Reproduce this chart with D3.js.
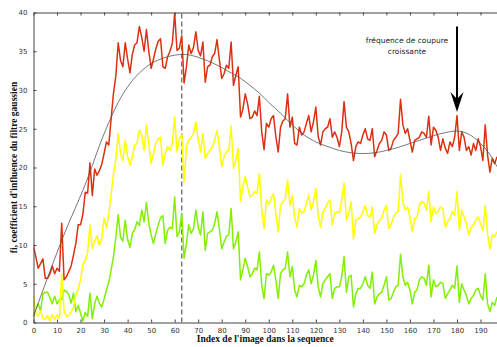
<!DOCTYPE html>
<html>
<head>
<meta charset="utf-8">
<script src="https://cdn.jsdelivr.net/npm/d3@7"></script>
<style>
  html, body { margin: 0; padding: 0; background: #fff; }
  svg { display: block; }
</style>
</head>
<body>
<svg id="chart" width="497" height="347"></svg>
<script>
// Image index 0..197 along the sequence
const frameIndex = d3.range(0, 198);

// Influence coefficient of the gaussian filter, one value per image
const redSeries = [
  9.8, 8.5, 7.0, 7.6, 8.2, 5.7, 5.7, 6.3, 7.3, 6.3,
  7.0, 6.6, 12.8, 5.5, 5.9, 6.6, 7.3, 8.7, 10.2, 12.6,
  12.6, 14.0, 16.8, 16.7, 20.6, 16.4, 19.8, 19.0, 19.6, 20.4,
  21.8, 23.3, 22.9, 26.3, 29.6, 31.8, 36.1, 33.8, 33.0, 36.1,
  34.0, 32.2, 34.6, 35.8, 36.1, 38.2, 36.8, 35.0, 37.8, 35.0,
  32.8, 34.0, 35.3, 36.3, 36.6, 33.0, 32.8, 34.3, 35.0, 36.0,
  39.9, 35.1, 35.4, 37.0, 30.9, 33.0, 35.8, 34.7, 35.5, 37.5,
  35.1, 34.4, 36.2, 31.0, 33.0, 33.2, 34.3, 34.7, 36.5, 33.9,
  31.5, 32.1, 33.2, 32.8, 36.2, 30.6, 31.9, 33.0, 26.5, 27.5,
  29.5, 28.2, 26.3, 26.5, 27.3, 26.7, 29.2, 24.6, 22.3, 25.7,
  25.2, 26.3, 26.7, 24.0, 22.0, 25.2, 26.0, 26.3, 29.5, 25.2,
  26.5, 23.1, 22.9, 25.2, 24.2, 24.6, 25.7, 26.7, 24.6, 25.9,
  27.8, 24.0, 22.9, 24.6, 25.0, 25.2, 26.3, 23.9, 24.6, 23.9,
  22.7, 24.6, 28.5, 25.2, 24.6, 23.1, 20.9, 22.7, 23.3, 23.1,
  24.2, 25.0, 23.7, 23.5, 25.0, 21.4, 22.2, 23.1, 23.5, 24.6,
  24.2, 22.2, 22.5, 23.5, 23.9, 24.4, 28.8, 25.5, 24.4, 25.0,
  23.5, 22.0, 23.5, 23.7, 23.9, 24.6, 24.4, 23.9, 26.6, 22.9,
  25.2, 24.8, 23.9, 22.2, 23.7, 22.5, 21.8, 23.3, 22.7, 23.9,
  26.7, 22.2, 24.6, 23.9, 22.2, 22.7, 21.6, 23.1, 22.2, 23.7,
  22.7, 20.9, 25.5, 21.6, 19.4, 21.2, 20.5, 21.4
];

const yellowSeries = [
  3.5, 1.2, 0.8, 1.5, 0.5, 0.4, 0.9, 0.2, 1.0, 0.4,
  1.0, 0.5, 6.3, 1.5, 0.8, 0.9, 1.3, 2.0, 3.5, 4.3,
  5.5, 7.5, 8.0, 9.0, 12.6, 9.5, 10.5, 11.2, 10.0, 10.8,
  13.5, 12.2, 14.0, 16.5, 19.2, 21.0, 24.4, 21.8, 20.9, 23.5,
  21.4, 20.3, 21.4, 22.9, 23.1, 24.8, 24.2, 22.2, 25.5, 23.1,
  20.5, 21.8, 23.1, 23.7, 23.9, 20.3, 21.8, 22.7, 22.2, 23.1,
  26.5, 22.0, 23.7, 24.2, 18.1, 22.7, 23.5, 23.9, 24.4, 25.9,
  23.7, 22.0, 24.4, 21.2, 21.8, 22.2, 22.7, 23.5, 24.8, 22.7,
  20.1, 21.4, 22.0, 22.2, 25.4, 19.9, 20.9, 22.5, 15.6, 17.5,
  18.8, 17.5, 16.2, 16.4, 16.9, 16.7, 19.2, 14.7, 12.1, 15.8,
  15.3, 16.0, 16.6, 14.1, 11.7, 15.1, 15.6, 16.0, 18.4, 15.1,
  16.4, 13.6, 12.3, 14.7, 14.1, 14.3, 15.4, 16.4, 14.5, 15.6,
  17.3, 13.8, 12.3, 14.3, 14.7, 15.4, 15.8, 12.6, 14.1, 14.3,
  14.1, 15.8, 18.0, 13.2, 14.1, 15.6, 10.8, 13.2, 13.4, 13.6,
  14.3, 15.1, 13.8, 13.6, 14.9, 11.5, 12.6, 13.2, 13.4, 14.5,
  15.1, 12.1, 12.6, 13.6, 14.1, 14.3, 19.1, 15.6, 14.5, 14.9,
  13.6, 11.7, 13.4, 13.6, 15.1, 15.6, 15.4, 14.5, 16.9, 13.0,
  14.9, 14.1, 14.3, 14.9, 14.7, 12.3, 13.0, 13.4, 14.3, 13.8,
  16.9, 11.9, 14.5, 13.6, 12.8, 11.3, 12.3, 12.6, 13.2, 13.6,
  12.8, 11.9, 15.1, 11.3, 9.5, 11.3, 11.1, 11.7
];

const greenSeries = [
  0.7, 1.8, 2.4, 1.5, 3.7, 3.9, 3.9, 3.2, 2.4, 3.4,
  2.4, 2.9, 3.0, 4.2, 4.0, 3.6, 2.5, 3.8, 1.4, 2.2,
  1.2, 0.2, 1.3, 0.8, 3.8, 0.5, 2.4, 3.4, 2.5, 2.0,
  3.0, 4.2, 5.2, 6.8, 8.5, 11.0, 13.9, 11.0, 10.5, 13.2,
  10.7, 9.7, 11.5, 12.0, 13.0, 12.5, 14.5, 13.0, 15.5, 12.8,
  11.3, 10.2, 11.5, 12.6, 13.5, 13.8, 10.2, 11.9, 12.3, 12.1,
  16.2, 11.1, 11.7, 14.1, 8.3, 10.2, 12.6, 11.5, 12.1, 14.5,
  12.3, 11.3, 14.3, 9.3, 11.5, 11.7, 11.9, 12.8, 14.3, 12.1,
  9.5, 10.4, 11.1, 11.3, 14.7, 9.5, 10.4, 11.7, 5.5, 6.8,
  8.3, 7.2, 5.9, 6.3, 7.0, 6.8, 9.1, 4.8, 3.1, 6.3,
  6.1, 6.5, 7.4, 5.5, 3.1, 6.3, 6.8, 7.0, 9.1, 5.9,
  7.2, 4.2, 3.3, 4.8, 4.6, 5.0, 6.1, 6.8, 5.0, 6.1,
  8.0, 4.6, 3.3, 5.0, 5.5, 5.9, 6.3, 3.1, 4.4, 4.6,
  4.6, 5.9, 8.5, 3.9, 5.9, 6.1, 2.0, 3.7, 4.4, 4.4,
  5.0, 5.9, 4.8, 4.4, 6.5, 2.4, 3.3, 3.7, 3.9, 4.8,
  5.9, 2.9, 3.1, 3.9, 4.6, 4.8, 8.8, 5.9, 4.8, 5.2,
  4.2, 2.4, 3.9, 4.2, 5.5, 5.9, 5.7, 4.8, 7.4, 3.3,
  5.5, 4.6, 4.8, 5.2, 5.0, 3.1, 3.7, 4.2, 4.8, 4.4,
  7.3, 2.6, 5.0, 4.2, 3.5, 2.4, 3.1, 3.5, 4.2, 4.4,
  3.5, 2.9, 6.3, 2.4, 1.4, 2.6, 2.2, 3.3
];

// Smooth trend of the red series, sampled at a few indices
const trendX = [0, 12, 24, 28, 32, 36, 40, 45, 50, 55, 60, 64, 68, 72, 76, 80, 84, 88, 92, 96,
                100, 105, 110, 115, 120, 125, 130, 135, 140, 145, 150, 155, 160, 165, 170, 175,
                180, 185, 190, 195, 197];
const trendY = [0.8, 10.6, 19.4, 22.8, 25.8, 28.4, 30.4, 32.2, 33.4, 34.1, 34.5, 34.6, 34.4, 34.0,
                33.5, 32.9, 32.2, 31.5, 30.6, 29.6, 28.4, 27.0, 25.5, 24.2, 23.3, 22.7, 22.2, 21.9,
                21.8, 21.9, 22.2, 22.6, 23.1, 23.6, 24.1, 24.5, 24.7, 24.3, 23.1, 21.2, 20.1];

const xTicks = d3.range(0, 191, 10);
const yTicks = d3.range(0, 41, 5);
const markerIndex = 63;     // dashed reference image
const arrowIndex = 180;     // annotated image
const annotationLines = ["fréquence de coupure", "croissante"];

const svg = d3.select("#chart");
const margin = { left: 33.5, top: 12.5, right: 0, bottom: 24.5 };
const W = 497, H = 347;

const x = d3.scaleLinear().domain([0, 197]).range([margin.left, W - margin.right]);
const y = d3.scaleLinear().domain([0, 40]).range([H - margin.bottom, margin.top]);

const clip = svg.append("defs").append("clipPath").attr("id", "plotclip")
  .append("rect")
  .attr("x", margin.left).attr("y", margin.top)
  .attr("width", W - margin.left).attr("height", y(0) - margin.top);

const plot = svg.append("g").attr("clip-path", "url(#plotclip)");

// Dashed vertical marker
plot.append("line")
  .attr("x1", x(markerIndex)).attr("x2", x(markerIndex))
  .attr("y1", y(0)).attr("y2", y(40))
  .attr("stroke", "#777").attr("stroke-width", 1.4)
  .attr("stroke-dasharray", "5,3");

const line = d3.line().x((d, i) => x(frameIndex[i])).y(d => y(d));

const series = [
  { values: greenSeries, color: "#80f000" },
  { values: yellowSeries, color: "#ffff00" },
  { values: redSeries, color: "#dc3010" }
];

plot.selectAll("path.series")
  .data(series)
  .join("path")
  .attr("class", "series")
  .attr("d", d => line(d.values))
  .attr("fill", "none")
  .attr("stroke", d => d.color)
  .attr("stroke-width", 1.5)
  .attr("stroke-linejoin", "round");

// Smooth trend curve
const trendLine = d3.line()
  .x((d, i) => x(trendX[i]))
  .y(d => y(d))
  .curve(d3.curveMonotoneX);
plot.append("path")
  .attr("d", trendLine(trendY))
  .attr("fill", "none")
  .attr("stroke", "#555")
  .attr("stroke-width", 0.8);

// Axes, with inward ticks on every side
const axisColor = "#444";
const tickFont = "DejaVu Sans, sans-serif";

const xAxisBottom = svg.append("g")
  .attr("transform", `translate(0,${y(0)})`)
  .call(d3.axisBottom(x).tickValues(xTicks).tickSizeInner(-3).tickSizeOuter(0).tickPadding(6));
const xAxisTop = svg.append("g")
  .attr("transform", `translate(0,${y(40)})`)
  .call(d3.axisTop(x).tickValues(xTicks).tickSizeInner(-3).tickSizeOuter(0).tickFormat(""));
const yAxisLeft = svg.append("g")
  .attr("transform", `translate(${x(0)},0)`)
  .call(d3.axisLeft(y).tickValues(yTicks).tickSizeInner(-3).tickSizeOuter(0).tickPadding(6));

[xAxisBottom, xAxisTop, yAxisLeft].forEach(g => {
  g.select(".domain").attr("stroke", axisColor).attr("stroke-width", 1);
  g.selectAll(".tick line").attr("stroke", axisColor);
  g.selectAll(".tick text")
    .attr("fill", "#333")
    .style("font-family", tickFont)
    .style("font-size", "7px");
});

// Axis titles
svg.append("text")
  .attr("x", (x(0) + W) / 2).attr("y", 342)
  .attr("text-anchor", "middle")
  .style("font-family", "Liberation Serif, Times New Roman, serif")
  .style("font-weight", "bold")
  .style("font-size", "9.5px")
  .attr("fill", "#111")
  .text("Index de l'image dans la sequence");

svg.append("text")
  .attr("transform", `translate(17,${(y(0) + y(40)) / 2}) rotate(-90)`)
  .attr("text-anchor", "middle")
  .style("font-family", "Liberation Serif, Times New Roman, serif")
  .style("font-weight", "bold")
  .style("font-size", "9.5px")
  .attr("fill", "#111")
  .text("fi, coefficient d'influence du filtre gaussien");

// Annotation arrow and label
const ax = x(arrowIndex);
svg.append("line")
  .attr("x1", ax).attr("x2", ax)
  .attr("y1", 26.5).attr("y2", 100)
  .attr("stroke", "#000").attr("stroke-width", 2);
svg.append("path")
  .attr("d", `M${ax},112 L${ax - 6.5},92 L${ax},99 L${ax + 6.5},92 Z`)
  .attr("fill", "#000");

svg.append("text")
  .attr("x", 407).attr("y", 43)
  .attr("text-anchor", "middle")
  .style("font-family", "DejaVu Sans, sans-serif")
  .style("font-size", "7.5px")
  .attr("fill", "#222")
  .selectAll("tspan")
  .data(annotationLines)
  .join("tspan")
  .attr("x", 407)
  .attr("dy", (d, i) => i === 0 ? 0 : 11)
  .text(d => d);
</script>
</body>
</html>
